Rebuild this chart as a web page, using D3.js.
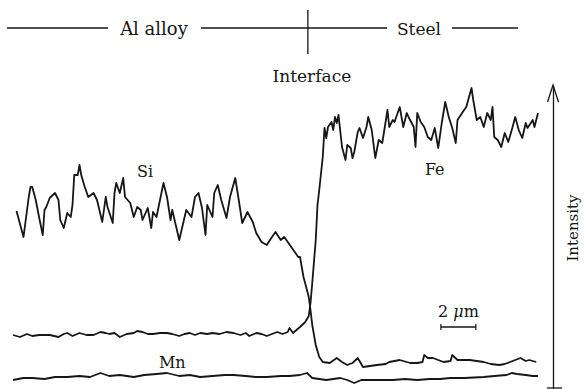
<!DOCTYPE html>
<html>
<head>
<meta charset="utf-8">
<script src="https://cdn.jsdelivr.net/npm/d3@7"></script>
<style>
  body { margin: 0; background: #fff; }
  svg { display: block; font-family: "DejaVu Serif", serif; }
</style>
</head>
<body>
<div id="chart"></div>
<script>
// EDS line scan across the Al alloy / steel interface
// [position (µm), intensity (counts)]
const si = [
  [0.2,178],[0.6,152],[0.9,192],[1.0,202],[1.1,202],[1.3,189],[1.5,171],[1.7,154],[1.8,179],[1.9,182],
  [2.1,191],[2.4,196],[2.6,189],[2.7,169],[2.9,161],[3.1,176],[3.3,172],[3.4,184],[3.5,214],[3.7,214],
  [3.8,224],[3.9,214],[4.1,202],[4.3,192],[4.6,196],[4.8,189],[5.1,167],[5.3,192],[5.4,182],[5.7,166],
  [5.8,196],[5.9,206],[6.1,196],[6.3,211],[6.4,192],[6.7,186],[6.9,172],[7.1,182],[7.3,179],[7.4,169],
  [7.7,181],[7.9,161],[8.0,177],[8.2,172],[8.6,206],[8.8,192],[9.0,169],[9.1,179],[9.5,149],[9.9,179],
  [10.2,172],[10.4,192],[10.6,196],[10.8,181],[11.0,154],[11.1,184],[11.4,172],[11.5,196],[11.7,204],[11.9,189],
  [12.2,171],[12.4,192],[12.7,211],[12.9,189],[13.1,166],[13.4,177],[13.7,167],[13.9,156],[14.2,147],[14.5,144],
  [14.8,152],[15.0,157],[15.3,149],[15.5,152],[15.9,142],[16.3,132],[16.4,132],[16.6,112],[16.9,92],[17.0,79],
  [17.1,64],[17.3,44],[17.5,32],[17.7,27],[18.1,26],[18.5,31],[18.8,27],[19.1,24],[19.4,26],[19.7,31],
  [20.0,22],[20.4,23],[20.8,24],[21.3,25],[21.5,27],[22.1,29],[22.7,26],[23.1,26],[23.4,27],[23.5,34],
  [23.7,31],[24.0,31],[24.6,27],[25.0,28],[25.1,34],[25.4,29],[25.7,29],[26.1,29],[26.5,28],[26.9,27],
  [27.3,25],[27.8,24],[28.1,25],[28.4,27],[28.7,29],[29.0,31],[29.3,28],[29.5,29],[29.9,27]
];
const fe = [
  [0.0,54],[0.4,52],[0.8,55],[1.1,53],[1.5,54],[2.1,54],[2.6,52],[2.9,55],[3.1,56],[3.4,53],
  [3.8,56],[4.2,54],[4.6,54],[5.0,57],[5.3,56],[5.5,55],[5.8,56],[6.1,52],[6.5,55],[6.9,56],
  [7.1,58],[7.4,57],[7.7,55],[8.0,55],[8.4,56],[8.8,56],[9.1,55],[9.5,53],[9.8,55],[10.1,56],
  [10.4,54],[10.7,56],[11.1,55],[11.4,56],[11.8,55],[12.2,57],[12.6,56],[13.0,54],[13.3,56],[13.5,53],
  [13.9,56],[14.2,55],[14.5,53],[14.8,55],[15.1,57],[15.4,55],[15.7,57],[15.8,61],[16.0,56],[16.2,59],
  [16.4,62],[16.7,67],[16.9,73],[17.0,86],[17.1,106],[17.3,149],[17.4,184],[17.5,199],[17.7,232],[17.8,261],
  [17.9,251],[18.0,262],[18.2,267],[18.3,259],[18.4,272],[18.5,266],[18.6,274],[18.8,242],[19.0,229],[19.1,244],
  [19.3,241],[19.4,231],[19.5,237],[19.7,257],[19.8,261],[20.0,251],[20.2,262],[20.3,272],[20.5,259],[20.7,231],
  [20.9,249],[21.1,246],[21.4,279],[21.5,262],[21.7,269],[21.8,267],[22.1,282],[22.3,262],[22.5,276],[22.6,272],
  [22.9,262],[23.0,242],[23.1,276],[23.3,267],[23.5,262],[23.7,252],[23.9,249],[24.1,261],[24.3,241],[24.5,266],
  [24.7,287],[24.9,272],[25.1,261],[25.3,246],[25.4,269],[25.7,277],[25.9,282],[26.2,301],[26.3,289],[26.5,269],
  [26.7,272],[26.9,262],[27.1,276],[27.3,269],[27.4,282],[27.5,252],[27.7,249],[27.9,242],[28.1,256],[28.3,247],
  [28.5,259],[28.7,272],[28.9,259],[29.1,251],[29.3,266],[29.4,261],[29.7,269],[29.8,262],[30.0,276]
];
const mn = [
  [0.0,9],[0.6,11],[1.1,11],[1.8,10],[2.4,12],[3.1,12],[3.8,13],[4.4,12],[5.0,16],[5.5,13],
  [6.1,14],[6.9,12],[7.5,14],[8.2,15],[8.8,16],[9.5,13],[10.1,14],[10.7,12],[11.4,13],[12.1,14],
  [12.6,14],[13.3,13],[13.9,12],[14.5,12],[15.3,13],[15.8,13],[16.4,14],[16.8,16],[17.1,11],[17.5,10],
  [17.9,9],[18.7,11],[19.1,9],[19.5,6],[19.9,9],[20.2,9],[21.0,9],[21.7,9],[22.4,10],[23.1,9],
  [23.8,10],[24.4,10],[25.0,11],[25.8,11],[26.9,12],[27.5,13],[28.2,14],[28.5,16],[28.8,15],[29.3,14],
  [29.7,13],[30.0,13]
];
const elementNames = ['Si', 'Fe', 'Mn'];
const regionNames = ['Al alloy', 'Steel'];
const interfaceAt = 16.85;   // µm
const scaleBarLen = 2;       // µm

const W = 584, H = 389;
const svg = d3.select('#chart').append('svg').attr('width', W).attr('height', H);

const x = d3.scaleLinear().domain([0, 30]).range([13, 538]);
const y = d3.scaleLinear().domain([0, 304]).range([389, 85]);

const ink = '#161616';
const line = d3.line().x(d => x(d[0])).y(d => y(d[1]));

[si, fe, mn].forEach(s => {
  svg.append('path')
    .datum(s)
    .attr('d', line)
    .attr('fill', 'none')
    .attr('stroke', ink)
    .attr('stroke-width', 1.8)
    .attr('stroke-linejoin', 'round');
});

// element labels
const labelAt = { Si: [7.55, 212], Fe: [24.1, 214], Mn: [9.1, 21] };
svg.selectAll('text.el')
  .data(elementNames)
  .enter().append('text')
  .attr('class', 'el')
  .attr('x', d => x(labelAt[d][0]))
  .attr('y', d => y(labelAt[d][1]))
  .attr('text-anchor', 'middle')
  .attr('font-size', 16)
  .attr('fill', ink)
  .text(d => d);

// intensity axis with open arrow head
const axisX = 553;
svg.append('g')
  .attr('transform', `translate(${axisX},0)`)
  .call(d3.axisRight(y).tickValues([]).tickSizeOuter(0))
  .call(g => g.select('.domain').attr('stroke', ink).attr('stroke-width', 1.3));
svg.append('path')
  .attr('d', `M${axisX - 5.5},${y(304) + 17}L${axisX},${y(304)}L${axisX + 5.5},${y(304) + 17}`)
  .attr('fill', 'none').attr('stroke', ink).attr('stroke-width', 1.3);
svg.append('line')
  .attr('x1', axisX - 6).attr('x2', axisX + 9)
  .attr('y1', y(0) - 1).attr('y2', y(0) - 1)
  .attr('stroke', ink).attr('stroke-width', 1.3);
svg.append('text')
  .attr('transform', `translate(578,228) rotate(-90)`)
  .attr('text-anchor', 'middle')
  .attr('font-size', 15)
  .attr('fill', ink)
  .text('Intensity');

// scale bar
const sb0 = 24.45;
const sbY = 327;
svg.append('line')
  .attr('x1', x(sb0)).attr('x2', x(sb0 + scaleBarLen))
  .attr('y1', sbY).attr('y2', sbY)
  .attr('stroke', ink).attr('stroke-width', 1.5);
[sb0, sb0 + scaleBarLen].forEach(v => {
  svg.append('line')
    .attr('x1', x(v)).attr('x2', x(v))
    .attr('y1', sbY - 3).attr('y2', sbY + 3)
    .attr('stroke', ink).attr('stroke-width', 1.2);
});
const sbText = svg.append('text')
  .attr('x', x(sb0 + scaleBarLen / 2))
  .attr('y', 317)
  .attr('text-anchor', 'middle')
  .attr('font-size', 16)
  .attr('fill', ink);
sbText.append('tspan').text(scaleBarLen + ' ');
sbText.append('tspan').attr('font-style', 'italic').text('\u03bc');
sbText.append('tspan').text('m');

// region header: Al alloy | Steel
const topY = 28;
const ix = x(interfaceAt);
[[7, 108], [201, 387], [452, 518]].forEach(([a, b]) => {
  svg.append('line')
    .attr('x1', a).attr('x2', b).attr('y1', topY).attr('y2', topY)
    .attr('stroke', ink).attr('stroke-width', 1.4);
});
svg.append('line')
  .attr('x1', ix).attr('x2', ix).attr('y1', 10).attr('y2', 54)
  .attr('stroke', ink).attr('stroke-width', 1.3);
svg.selectAll('text.region')
  .data(regionNames)
  .enter().append('text')
  .attr('class', 'region')
  .attr('x', (d, i) => i === 0 ? 154 : 419)
  .attr('y', 35)
  .attr('text-anchor', 'middle')
  .attr('font-size', (d, i) => i === 0 ? 18 : 17)
  .attr('fill', ink)
  .text(d => d);
svg.append('text')
  .attr('x', ix + 4)
  .attr('y', 82)
  .attr('text-anchor', 'middle')
  .attr('font-size', 17)
  .attr('fill', ink)
  .text('Interface');
</script>
</body>
</html>
